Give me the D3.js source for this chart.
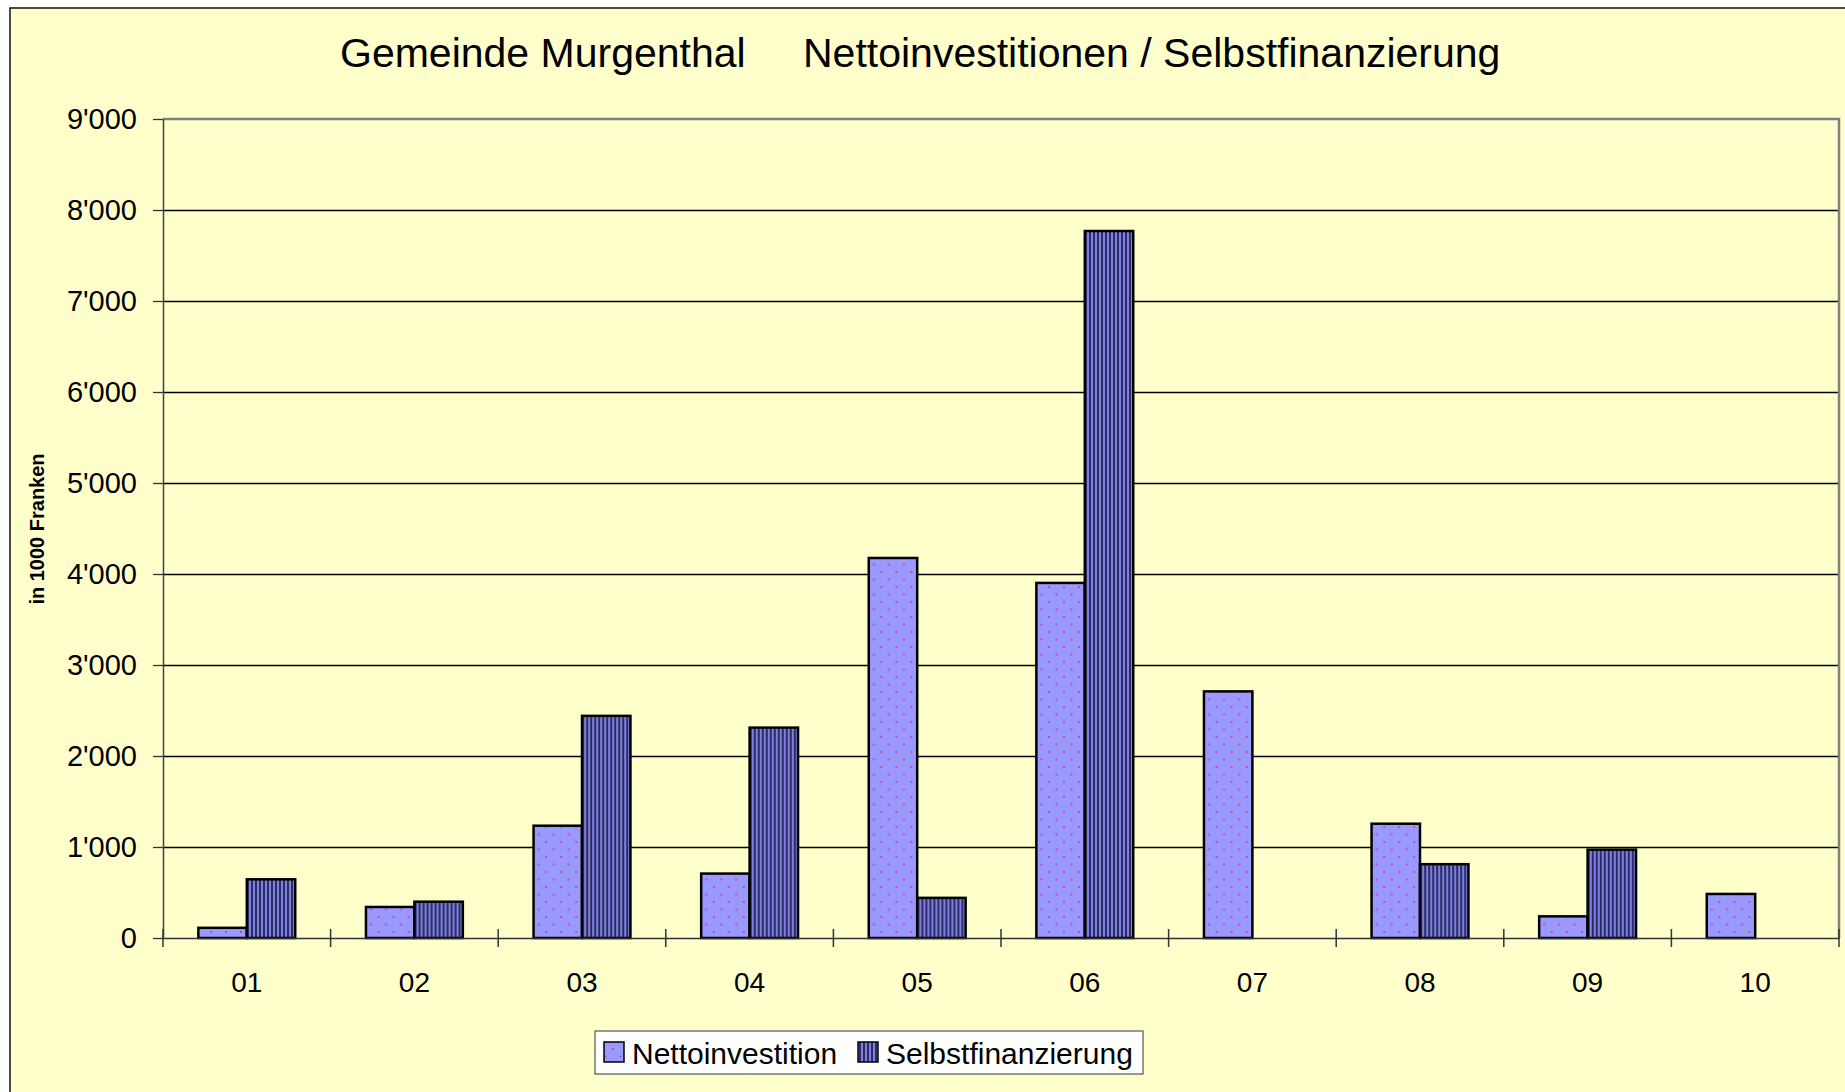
<!DOCTYPE html>
<html>
<head>
<meta charset="utf-8">
<script src="https://cdn.jsdelivr.net/npm/d3@7"></script>
<style>
  body { margin: 0; background: #fff; }
  text { font-family: "Liberation Sans", Arial, sans-serif; fill: #000; }
</style>
</head>
<body>
<svg id="graph" width="1845" height="1092"></svg>
<script>
// data (in 1000 Franken)
var years = ["01", "02", "03", "04", "05", "06", "07", "08", "09", "10"];
var series = ["Nettoinvestition", "Selbstfinanzierung"];
var netto = [112, 341, 1234, 708, 4176, 3902, 2710, 1256, 238, 484];
var selbst = [645, 399, 2441, 2312, 441, 7769, 0, 811, 971, 0];
var yTicks = [0, 1000, 2000, 3000, 4000, 5000, 6000, 7000, 8000, 9000];
var titleLeft = "Gemeinde Murgenthal";
var titleRight = "Nettoinvestitionen / Selbstfinanzierung";
var yLabel = "in 1000 Franken";

var margin = { top: 119, right: 6, bottom: 154, left: 163 },
  width = 1845 - margin.left - margin.right,
  height = 1092 - margin.top - margin.bottom;

var graph = d3.select("#graph");

// patterns
var defs = graph.append("defs");
var dots = defs
  .append("pattern")
  .attr("id", "dots")
  .attr("patternUnits", "userSpaceOnUse")
  .attr("width", 15)
  .attr("height", 15);
dots.append("rect").attr("width", 15).attr("height", 15).attr("fill", "#9999FF");
dots.append("rect").attr("x", 2).attr("y", 2).attr("width", 2).attr("height", 2).attr("fill", "#C8508C");
dots.append("rect").attr("x", 9.5).attr("y", 9.5).attr("width", 2).attr("height", 2).attr("fill", "#C8508C");

var stripes = defs
  .append("pattern")
  .attr("id", "stripes")
  .attr("patternUnits", "userSpaceOnUse")
  .attr("width", 4)
  .attr("height", 4);
stripes.append("rect").attr("width", 4).attr("height", 4).attr("fill", "#7E7EE6");
stripes.append("rect").attr("x", 0).attr("width", 2).attr("height", 4).attr("fill", "#2E2E5E");

var fills = ["url(#dots)", "url(#stripes)"];

// chart area background
graph
  .append("rect")
  .attr("x", 10)
  .attr("y", 8)
  .attr("width", 1900)
  .attr("height", 1200)
  .attr("fill", "#FFFFCC")
  .attr("stroke", "#111")
  .attr("stroke-width", 1.5);

var x0 = d3.scaleBand().domain(years).range([0, width]);
var x1 = d3.scaleBand().domain(series).range([0, x0.bandwidth()]).paddingOuter(0.73);
var y = d3.scaleLinear().domain([0, 9000]).range([height, 0]);

var locale = d3.formatLocale({ decimal: ".", thousands: "'", grouping: [3], currency: ["", ""] });
var fmt = locale.format(",");

var plot = graph
  .append("g")
  .attr("transform", "translate(" + margin.left + "," + margin.top + ")");

// gridlines
plot
  .selectAll(".grid")
  .data(yTicks.slice(1, -1))
  .enter()
  .append("line")
  .attr("x1", 0)
  .attr("x2", width)
  .attr("y1", function (d) { return Math.round(y(d)) + 0.5; })
  .attr("y2", function (d) { return Math.round(y(d)) + 0.5; })
  .attr("stroke", "#000")
  .attr("stroke-width", 1.3);

// plot border top/right
plot
  .append("path")
  .attr("d", "M0,0H" + width + "V" + height)
  .attr("fill", "none")
  .attr("stroke", "#808080")
  .attr("stroke-width", 2.5);

// bars
var groups = plot
  .selectAll(".year")
  .data(years)
  .enter()
  .append("g")
  .attr("transform", function (d) { return "translate(" + x0(d) + ",0)"; });

groups
  .selectAll("rect")
  .data(function (d, i) {
    return [
      { key: series[0], value: netto[i] },
      { key: series[1], value: selbst[i] },
    ];
  })
  .enter()
  .filter(function (d) { return d.value > 0; })
  .append("rect")
  .attr("x", function (d) { return x1(d.key); })
  .attr("y", function (d) { return y(d.value); })
  .attr("width", x1.bandwidth())
  .attr("height", function (d) { return height - y(d.value); })
  .attr("fill", function (d) { return fills[series.indexOf(d.key)]; })
  .attr("stroke", "#000")
  .attr("stroke-width", 2.5);

// y axis
var yAxis = d3.axisLeft(y).tickValues(yTicks).tickFormat(fmt).tickSize(10).tickPadding(16).tickSizeOuter(0);
var gy = plot.append("g").call(yAxis);
gy.select(".domain").attr("stroke", "#404040").attr("stroke-width", 1.5);
gy.selectAll(".tick line").attr("stroke", "#333").attr("stroke-width", 1.3);
gy.selectAll(".tick text").attr("font-size", 29).attr("font-family", "Liberation Sans, Arial, sans-serif").attr("fill", "#000");

// x axis
var xAxis = d3.axisBottom(x0).tickSize(0).tickPadding(34).tickSizeOuter(0);
var gx = plot.append("g").attr("transform", "translate(0," + height + ")").call(xAxis);
gx.select(".domain").attr("stroke", "#333").attr("stroke-width", 1.5);
gx.selectAll(".tick text").attr("font-size", 28).attr("font-family", "Liberation Sans, Arial, sans-serif").attr("fill", "#000");

// category boundary ticks crossing the axis
plot
  .selectAll(".xtick")
  .data(d3.range(years.length + 1))
  .enter()
  .append("line")
  .attr("x1", function (d) { return d * x0.step(); })
  .attr("x2", function (d) { return d * x0.step(); })
  .attr("y1", height - 9)
  .attr("y2", height + 9)
  .attr("stroke", "#333")
  .attr("stroke-width", 1.5);

// titles
graph.append("text").attr("x", 340).attr("y", 67).attr("font-size", 41).text(titleLeft);
graph.append("text").attr("x", 803).attr("y", 67).attr("font-size", 41).text(titleRight);

graph
  .append("text")
  .attr("transform", "translate(44,529) rotate(-90)")
  .attr("text-anchor", "middle")
  .attr("font-size", 20)
  .attr("font-weight", "bold")
  .text(yLabel);

// legend
var legend = graph.append("g").attr("transform", "translate(595,1031)");
legend
  .append("rect")
  .attr("width", 548)
  .attr("height", 43)
  .attr("fill", "#fff")
  .attr("stroke", "#333")
  .attr("stroke-width", 1);

var legendX = [9, 263];
series.forEach(function (s, i) {
  legend
    .append("rect")
    .attr("x", legendX[i])
    .attr("y", 11)
    .attr("width", 20)
    .attr("height", 20)
    .attr("fill", fills[i])
    .attr("stroke", "#000")
    .attr("stroke-width", 1.5);
  legend
    .append("text")
    .attr("x", legendX[i] + 28)
    .attr("y", 33)
    .attr("font-size", 30)
    .text(s);
});
</script>
</body>
</html>
